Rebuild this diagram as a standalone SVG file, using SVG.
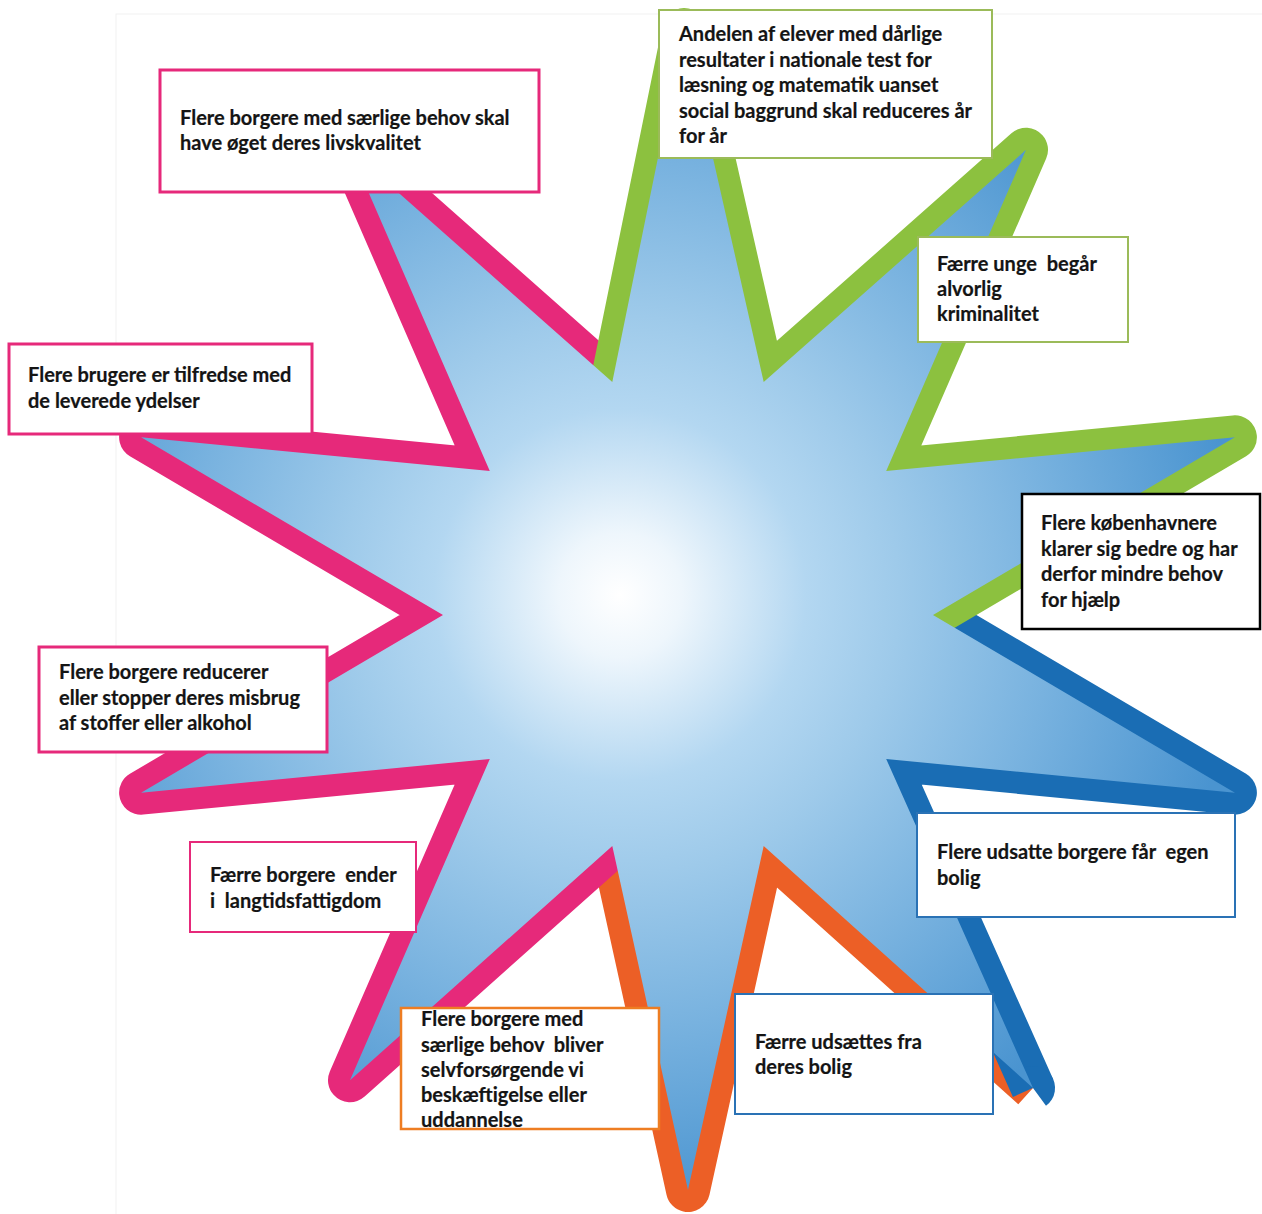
<svg xmlns="http://www.w3.org/2000/svg" width="1262" height="1214" viewBox="0 0 1262 1214">
  <defs>
    <radialGradient id="starFill" gradientUnits="userSpaceOnUse" cx="620" cy="595" r="620">
      <stop offset="0" stop-color="#ffffff"/>
      <stop offset="0.1" stop-color="#eef6fc"/>
      <stop offset="0.3" stop-color="#b3d7f1"/>
      <stop offset="0.45" stop-color="#9ecaea"/>
      <stop offset="0.7" stop-color="#78b2df"/>
      <stop offset="1" stop-color="#4a94d0"/>
    </radialGradient>
    <style>
      .edge { fill: none; stroke-width: 44; stroke-linejoin: round; stroke-linecap: butt; }
      .box { fill: #ffffff; }
      .lbl { font-family: Lato, "Open Sans", "Liberation Sans", sans-serif; font-weight: bold; font-size: 20px; fill: #141414; stroke: #141414; stroke-width: 0.2px; white-space: pre; }
    </style>
  </defs>
  <rect x="0" y="0" width="1262" height="1214" fill="#ffffff"/>
  <rect x="116" y="14" width="1200" height="1250" fill="none" stroke="#f1f1f1" stroke-width="1"/>

  <g id="star">
    <path class="edge" stroke="#ec5f26" stroke-linecap="round" d="M1033,1088 L763.7,846 L688,1190 L612.3,846"/>
    <path class="edge" stroke="#1a6db4" d="M933,615 L1234.9,792.7 L886.2,759 L1033,1088"/>
    <path fill="#1a6db4" d="M1020,1070.2 A22,22 0 0 1 1046,1105.8 Z"/>
    <path class="edge" stroke="#e6297a" d="M612.3,846 L350,1080.2 L489.8,759 L141.1,792.7 L443,615 L141.1,437.3 L489.8,471 L350,149.8 L612.3,382"/>
    <path class="edge" stroke="#8cc13f" d="M612.3,382 L684,30 L763.7,382 L1026,149.8 L886.2,471 L1234.9,437.3 L933,615"/>
    <polygon fill="url(#starFill)" points="684,30 763.7,382 1026,149.8 886.2,471 1234.9,437.3 933,615 1234.9,792.7 886.2,759 1033,1088 763.7,846 688,1190 612.3,846 350,1080.2 489.8,759 141.1,792.7 443,615 141.1,437.3 489.8,471 350,149.8 612.3,382"/>
  </g>

  <g id="box-livskvalitet">
    <rect class="box" x="160" y="70" width="379" height="122" stroke="#e6297a" stroke-width="3"/>
    <text class="lbl" x="180" y="125" xml:space="preserve">Flere borgere med særlige behov skal</text>
    <text class="lbl" x="180" y="150" xml:space="preserve">have øget deres livskvalitet</text>
  </g>
  <g id="box-tilfredse">
    <rect class="box" x="9" y="344" width="303" height="90" stroke="#e6297a" stroke-width="3"/>
    <text class="lbl" x="28" y="382" xml:space="preserve">Flere brugere er tilfredse med</text>
    <text class="lbl" x="28" y="408" xml:space="preserve">de leverede ydelser</text>
  </g>
  <g id="box-elever">
    <rect class="box" x="659" y="10" width="333" height="148" stroke="#9bbb59" stroke-width="2"/>
    <text class="lbl" x="679" y="41" xml:space="preserve">Andelen af elever med dårlige</text>
    <text class="lbl" x="679" y="67" xml:space="preserve">resultater i nationale test for</text>
    <text class="lbl" x="679" y="92" xml:space="preserve">læsning og matematik uanset</text>
    <text class="lbl" x="679" y="118" xml:space="preserve">social baggrund skal reduceres år</text>
    <text class="lbl" x="679" y="143" xml:space="preserve">for år</text>
  </g>
  <g id="box-kriminalitet">
    <rect class="box" x="918" y="237" width="210" height="105" stroke="#9bbb59" stroke-width="2"/>
    <text class="lbl" x="937" y="271" xml:space="preserve">Færre unge  begår</text>
    <text class="lbl" x="937" y="296" xml:space="preserve">alvorlig</text>
    <text class="lbl" x="937" y="321" xml:space="preserve">kriminalitet</text>
  </g>
  <g id="box-koebenhavnere">
    <rect class="box" x="1022" y="494" width="238" height="135" stroke="#000000" stroke-width="2.5"/>
    <text class="lbl" x="1041" y="530" xml:space="preserve">Flere københavnere</text>
    <text class="lbl" x="1041" y="556" xml:space="preserve">klarer sig bedre og har</text>
    <text class="lbl" x="1041" y="581" xml:space="preserve">derfor mindre behov</text>
    <text class="lbl" x="1041" y="607" xml:space="preserve">for hjælp</text>
  </g>
  <g id="box-misbrug">
    <rect class="box" x="39" y="647" width="288" height="105" stroke="#e6297a" stroke-width="3"/>
    <text class="lbl" x="59" y="679" xml:space="preserve">Flere borgere reducerer</text>
    <text class="lbl" x="59" y="705" xml:space="preserve">eller stopper deres misbrug</text>
    <text class="lbl" x="59" y="730" xml:space="preserve">af stoffer eller alkohol</text>
  </g>
  <g id="box-egen-bolig">
    <rect class="box" x="917" y="813" width="318" height="104" stroke="#2a72b5" stroke-width="2"/>
    <text class="lbl" x="937" y="859" xml:space="preserve">Flere udsatte borgere får  egen</text>
    <text class="lbl" x="937" y="885" xml:space="preserve">bolig</text>
  </g>
  <g id="box-fattigdom">
    <rect class="box" x="190" y="842" width="226" height="90" stroke="#e6297a" stroke-width="2"/>
    <text class="lbl" x="210" y="882" xml:space="preserve">Færre borgere  ender</text>
    <text class="lbl" x="210" y="908" xml:space="preserve">i  langtidsfattigdom</text>
  </g>
  <g id="box-selvforsoergende">
    <rect class="box" x="401" y="1008" width="258" height="121" stroke="#ee7d22" stroke-width="2.5"/>
    <text class="lbl" x="421" y="1026" xml:space="preserve">Flere borgere med</text>
    <text class="lbl" x="421" y="1052" xml:space="preserve">særlige behov  bliver</text>
    <text class="lbl" x="421" y="1077" xml:space="preserve">selvforsørgende vi</text>
    <text class="lbl" x="421" y="1102" xml:space="preserve">beskæftigelse eller</text>
    <text class="lbl" x="421" y="1127" xml:space="preserve">uddannelse</text>
  </g>
  <g id="box-udsaettes">
    <rect class="box" x="735" y="994" width="258" height="120" stroke="#2a72b5" stroke-width="2"/>
    <text class="lbl" x="755" y="1049" xml:space="preserve">Færre udsættes fra</text>
    <text class="lbl" x="755" y="1074" xml:space="preserve">deres bolig</text>
  </g>
</svg>
